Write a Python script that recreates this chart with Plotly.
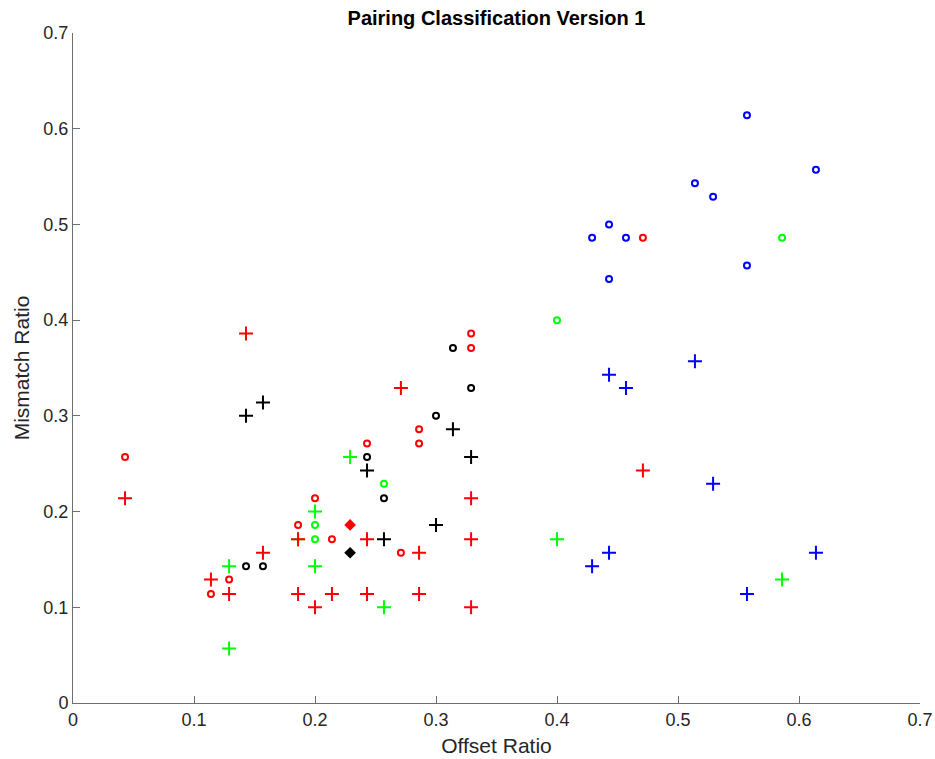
import plotly.graph_objects as go

# Values (x = Offset Ratio, y = Mismatch Ratio)
red_o_x = [0.043, 0.114, 0.129, 0.2, 0.186, 0.214, 0.329, 0.329, 0.286, 0.286, 0.243, 0.271, 0.471]
red_o_y = [0.257, 0.114, 0.129, 0.214, 0.186, 0.171, 0.386, 0.371, 0.286, 0.271, 0.271, 0.157, 0.486]

red_p_x = [0.043, 0.114, 0.129, 0.157, 0.143, 0.186, 0.186, 0.214, 0.2, 0.271, 0.329, 0.243, 0.329, 0.286, 0.243, 0.286, 0.329, 0.471]
red_p_y = [0.214, 0.129, 0.114, 0.157, 0.386, 0.171, 0.114, 0.114, 0.1, 0.329, 0.214, 0.171, 0.171, 0.157, 0.114, 0.114, 0.1, 0.243]

black_o_x = [0.143, 0.157, 0.314, 0.329, 0.3, 0.243, 0.257]
black_o_y = [0.143, 0.143, 0.371, 0.329, 0.3, 0.257, 0.214]

black_p_x = [0.143, 0.157, 0.314, 0.329, 0.243, 0.3, 0.257]
black_p_y = [0.3, 0.314, 0.286, 0.257, 0.243, 0.186, 0.171]

green_o_x = [0.2, 0.2, 0.257, 0.4, 0.586]
green_o_y = [0.186, 0.171, 0.229, 0.4, 0.486]

green_p_x = [0.129, 0.129, 0.2, 0.2, 0.186, 0.229, 0.257, 0.4, 0.586]
green_p_y = [0.143, 0.057, 0.2, 0.143, 0.171, 0.257, 0.1, 0.171, 0.129]

blue_o_x = [0.557, 0.614, 0.514, 0.529, 0.443, 0.429, 0.457, 0.557, 0.443]
blue_o_y = [0.614, 0.557, 0.543, 0.529, 0.5, 0.486, 0.486, 0.457, 0.443]

blue_p_x = [0.514, 0.443, 0.457, 0.529, 0.443, 0.429, 0.614, 0.557]
blue_p_y = [0.357, 0.343, 0.329, 0.229, 0.157, 0.143, 0.157, 0.114]

red_d_x = [0.229]
red_d_y = [0.186]
black_d_x = [0.229]
black_d_y = [0.157]

x_ticks = [0, 0.1, 0.2, 0.3, 0.4, 0.5, 0.6, 0.7]
y_ticks = [0, 0.1, 0.2, 0.3, 0.4, 0.5, 0.6, 0.7]

RED = "#ff0000"
BLACK = "#000000"
GREEN = "#00ff00"
BLUE = "#0000ff"
FONT = "Liberation Sans, Arial, sans-serif"

fig = go.Figure()

def add_circle(x, y, c):
    fig.add_trace(go.Scatter(x=x, y=y, mode="markers",
                             marker=dict(symbol="circle-open", size=6, color=c,
                                         line=dict(width=2, color=c)),
                             showlegend=False, hoverinfo="x+y"))

def add_plus(x, y, c):
    fig.add_trace(go.Scatter(x=x, y=y, mode="markers",
                             marker=dict(symbol="cross-thin-open", size=10, color=c,
                                         line=dict(width=2, color=c)),
                             showlegend=False, hoverinfo="x+y"))

def add_diamond(x, y, c):
    fig.add_trace(go.Scatter(x=x, y=y, mode="markers",
                             marker=dict(symbol="diamond", size=9, color=c,
                                         line=dict(width=0)),
                             showlegend=False, hoverinfo="x+y"))

add_circle(red_o_x, red_o_y, RED)
add_circle(black_o_x, black_o_y, BLACK)
add_circle(green_o_x, green_o_y, GREEN)
add_circle(blue_o_x, blue_o_y, BLUE)
add_plus(green_p_x, green_p_y, GREEN)
add_plus(red_p_x, red_p_y, RED)
add_plus(black_p_x, black_p_y, BLACK)
add_plus(blue_p_x, blue_p_y, BLUE)
add_diamond(red_d_x, red_d_y, RED)
add_diamond(black_d_x, black_d_y, BLACK)

axis_common = dict(
    showline=True, linecolor="#6e6e6e", linewidth=1,
    ticks="inside", ticklen=7, tickcolor="#6e6e6e", tickwidth=1,
    showgrid=False, zeroline=False, mirror=False,
    tickfont=dict(family=FONT, size=18, color="#262626"),
)

fig.update_layout(
    width=935, height=759,
    paper_bgcolor="white", plot_bgcolor="white",
    margin=dict(l=73, r=15, t=33, b=56, autoexpand=False),
    title=dict(text="<b>Pairing Classification Version 1</b>",
               x=0.5, xanchor="center", xref="paper",
               y=0.976, yanchor="middle",
               font=dict(family=FONT, size=20, color="black")),
    xaxis=dict(range=[0, 0.7], tickvals=x_ticks, ticktext=[f"{v:g}" for v in x_ticks],
               title=dict(text="Offset Ratio", standoff=9,
                          font=dict(family=FONT, size=21, color="#262626")),
               **axis_common),
    yaxis=dict(range=[0, 0.7], tickvals=y_ticks, ticktext=[f"{v:g}" for v in y_ticks],
               title=dict(text="Mismatch Ratio", standoff=8,
                          font=dict(family=FONT, size=21, color="#262626")),
               **axis_common),
)

# Remove the default page margin so the figure sits at the window's top-left corner.
fig.write_html("out.html",
               config={"displayModeBar": False},
               post_script="document.body.style.margin='0';document.body.style.overflow='hidden';")
